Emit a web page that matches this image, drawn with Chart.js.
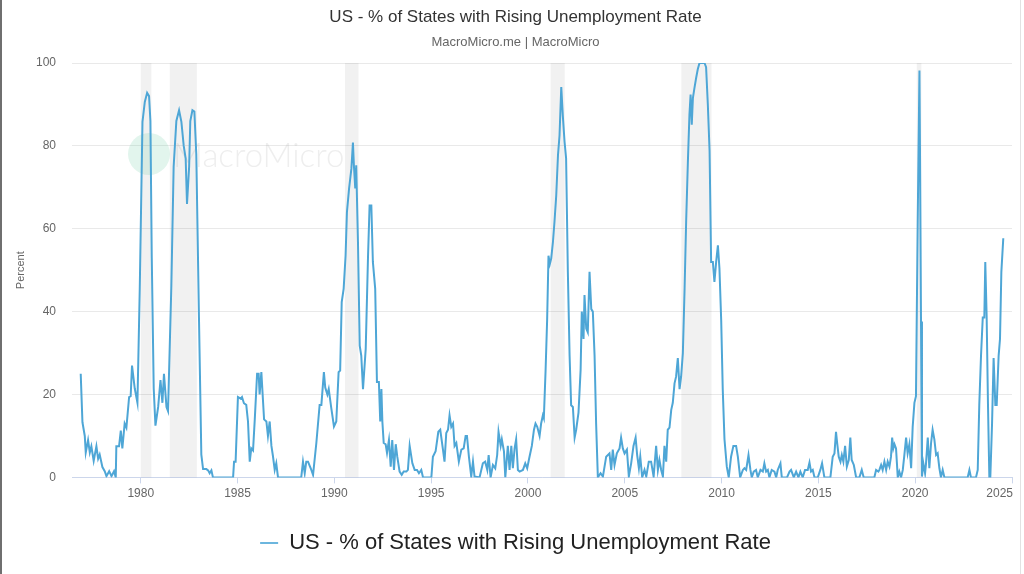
<!DOCTYPE html>
<html><head><meta charset="utf-8">
<script src="https://cdn.jsdelivr.net/npm/chart.js@4/dist/chart.umd.min.js"></script>
<style>
html,body{margin:0;padding:0;background:#fff;}
#wrap{position:relative;width:1024px;height:574px;}
#wrap:before{content:"";position:absolute;left:0;top:0;bottom:0;width:2px;background:#6f6f6f;}
#wrap:after{content:"";position:absolute;right:3px;top:0;bottom:0;width:1px;background:#e2e2e2;}
canvas{display:block;}
</style></head>
<body><div id="wrap"><canvas id="c" width="1024" height="574"></canvas></div>
<script>
const chartTitle = "US - % of States with Rising Unemployment Rate";
const chartSubtitle = "MacroMicro.me | MacroMicro";
const seriesName = "US - % of States with Rising Unemployment Rate";
const yTitle = "Percent";
const xTicks = [1980, 1985, 1990, 1995, 2000, 2005, 2010, 2015, 2020, 2025];
const yTicks = [0, 20, 40, 60, 80, 100];
const recessionStart = [1980.0, 1981.5, 1990.55, 2001.17, 2007.92, 2020.08];
const recessionEnd   = [1980.55, 1982.9, 1991.25, 2001.9, 2009.48, 2020.32];

const dates = [
1976.90,1976.99,1977.11,1977.16,1977.28,1977.37,1977.45,1977.57,1977.71,1977.80,1977.88,1978.02,1978.14,1978.23,1978.37,1978.49,1978.62,1978.71,1978.74,1978.88,1978.97,1979.05,1979.17,1979.26,1979.40,1979.48,1979.55,1979.69,1979.83,1979.95,
1980.09,1980.21,1980.33,1980.43,1980.50,1980.57,1980.67,1980.76,1980.90,1981.02,1981.12,1981.20,1981.33,1981.41,1981.58,1981.70,1981.84,1981.98,1982.10,1982.22,1982.32,1982.39,1982.50,1982.56,1982.67,1982.77,1982.87,1983.01,1983.13,1983.22,1983.39,
1983.48,1983.56,1983.65,1983.73,1984.77,1984.82,1984.90,1985.02,1985.16,1985.23,1985.33,1985.45,1985.54,1985.63,1985.71,1985.80,1985.89,1986.01,1986.09,1986.14,1986.23,1986.37,1986.49,1986.57,1986.66,1986.75,1986.83,1986.92,1987.00,1987.09,
1988.29,1988.38,1988.47,1988.55,1988.64,1988.78,1988.90,1989.07,1989.24,1989.33,1989.46,1989.53,1989.64,1989.71,1989.84,1989.98,1990.10,1990.22,1990.30,1990.38,
1990.48,1990.58,1990.65,1990.76,1990.88,1990.96,1991.01,1991.08,1991.13,1991.22,1991.31,1991.39,1991.48,1991.62,1991.74,1991.82,1991.91,1991.99,1992.11,1992.20,1992.30,1992.37,1992.43,1992.48,1992.55,1992.65,1992.72,1992.82,1992.91,1992.99,
1993.08,1993.17,1993.25,1993.37,1993.48,1993.58,1993.72,1993.80,1993.89,1994.03,1994.15,1994.27,1994.37,1994.49,1994.58,1995.01,1995.09,1995.23,1995.37,1995.47,1995.61,1995.69,1995.78,1995.87,1995.95,1996.04,1996.13,1996.21,1996.30,1996.43,
1996.56,1996.68,1996.78,1996.85,1996.95,1997.07,1997.16,1997.24,1997.50,1997.67,1997.79,1997.90,1997.97,1998.07,1998.19,1998.31,1998.41,1998.48,1998.59,1998.65,1998.76,1998.83,1998.96,1999.05,1999.14,1999.22,1999.31,1999.39,1999.48,1999.57,
1999.74,1999.86,1999.96,2000.08,2000.20,2000.31,2000.39,2000.48,2000.60,2000.68,2000.77,2000.82,2000.91,2000.99,2001.06,2001.13,2001.20,2001.29,2001.37,2001.46,2001.55,2001.63,2001.72,2001.80,2001.89,2001.97,2002.06,2002.15,2002.23,2002.32,
2002.41,2002.49,2002.61,2002.72,2002.78,2002.87,2002.92,2003.01,2003.09,2003.18,2003.27,2003.35,2003.44,2003.52,2003.61,2003.75,2003.87,2004.04,2004.21,2004.30,2004.38,2004.47,2004.59,2004.73,2004.81,2004.90,2004.99,2005.11,2005.21,2005.33,
2005.45,2005.56,2005.64,2005.73,2005.80,2005.90,2006.02,2006.11,2006.24,2006.36,2006.49,2006.62,2006.71,2006.79,2006.88,2006.97,2007.05,2007.14,2007.22,2007.31,2007.40,2007.48,2007.57,2007.65,2007.74,2007.83,2007.91,2008.00,2008.09,2008.17,
2008.26,2008.34,2008.40,2008.46,2008.52,2008.60,2008.69,2008.77,2008.86,2009.03,2009.12,2009.20,2009.29,2009.38,2009.46,2009.55,2009.63,2009.72,2009.81,2009.89,2009.98,2010.06,2010.15,2010.27,2010.37,2010.49,2010.61,2010.75,2010.84,2010.96,
2011.10,2011.18,2011.27,2011.39,2011.49,2011.56,2011.66,2011.78,2011.87,2012.01,2012.13,2012.21,2012.30,2012.39,2012.47,2012.59,2012.73,2012.82,2012.90,2013.04,2013.11,2013.38,2013.51,2013.59,2013.73,2013.85,2013.97,2014.07,2014.19,2014.31,
2014.45,2014.54,2014.62,2014.71,2014.80,2014.97,2015.10,2015.19,2015.31,2015.62,2015.74,2015.83,2015.91,2015.97,2016.05,2016.14,2016.21,2016.29,2016.38,2016.47,2016.57,2016.65,2016.72,2016.83,2016.95,2017.12,2017.24,2017.34,2017.89,2017.98,
2018.10,2018.15,2018.24,2018.32,2018.41,2018.50,2018.58,2018.67,2018.75,2018.81,2018.87,2018.93,2019.01,2019.10,2019.18,2019.27,2019.36,2019.44,2019.53,2019.61,2019.70,2019.79,2019.87,2019.96,2020.04,2020.13,2020.22,2020.25,2020.30,2020.35,
2020.42,2020.51,2020.56,2020.65,2020.73,2020.82,2020.90,2020.99,2021.08,2021.16,2021.25,2021.33,2021.42,2021.51,2022.71,2022.80,2022.88,2023.14,2023.23,2023.31,2023.40,2023.49,2023.57,2023.62,2023.69,2023.76,2023.83,2023.88,2023.97,2024.05,
2024.14,2024.21,2024.31,2024.38,2024.45,2024.55
];
const values = [
25.0,13.3,10,6,9,6,7.5,4,7.5,4.5,5.5,2.5,1.5,0.3,1.5,0.3,1.5,0,7.5,7.5,11.3,7,13,12,19.4,19.6,27,21.5,18,45.6,
85.8,90.6,92.8,92,86,53,21.5,12.5,17,23.5,18,25,17,16,46,75,86,88.6,85.8,80,77,66,75,86,88.6,88.3,78,38,5.5,2,2,
1.7,1,1.7,0,0,3.8,3.8,19.4,19,19.4,17.9,17.5,13.5,3.8,7,6.5,14,25,25,20,25.4,14,13.5,10,13.5,7.6,5.1,1.8,3.4,0,
0,3.8,1,3.8,3.8,2.2,0.6,8.3,17.5,17.5,25.4,21.7,20,21.3,16.8,12.3,13.5,25.4,25.8,42.3,
45.5,53.5,64,69.7,74.5,80.8,75.3,69.7,75.3,56.8,31.8,29.4,21.3,31,53.5,65.6,65.6,52,45.5,23,23,13.5,21.3,13.5,8.3,8,5.9,9,2.6,9,
1.8,8,5,1.4,0.6,1.4,1.4,1.8,7.6,3.4,1.8,1.8,1,1.8,0,0,5,6.3,11,11.5,6.7,3.8,10.7,11.5,15,12.2,13,7.6,8.3,3.8,
6.7,7,10,10,5,0.2,3.8,0.2,0,3.4,3.8,1.8,5.4,0,3,2.2,5.4,11,7.6,9.2,6.3,0,7.6,1.8,7.6,2.2,7,9.2,1.8,1.4,
1.8,3.4,2.2,5,7.6,11.5,13,12.2,10,13,15,14.3,25.8,38,53.5,51.5,52.8,56.8,61.7,68,77.7,82.5,94.2,87.3,81,77,49.6,29.4,17.4,17,
9.6,11.5,15.6,26,40,33.4,44,35.9,35,49.6,40.6,40,29.4,13,0,1,0.2,5,5.8,1.8,6.7,3,5.8,7,9.6,7,5.8,6.7,0.2,3.4,
7.6,9.6,5.4,2.2,5,0,1.8,0.2,3.8,3.8,0.2,7.6,1.8,4.2,1.8,0.2,7.6,3.8,11.5,12,16.3,18,22.7,24.3,28.8,21.3,24.3,30,45.6,61.7,
76.2,87.5,92.4,85.1,91.6,94,96.5,98.5,100,100,100,99,90,78.8,52,52,47.2,52,56,50.4,38,21.3,9.2,2.6,0,5,7.6,7.6,5,0,
1.8,2.2,1.8,5.4,1.8,0,1.4,1.8,0,1.8,1.4,3.4,1.4,1.8,0,1.8,1.4,0,1.8,3.4,0,0,1.4,1.8,0,1.4,0,1.4,0,1.8,
1.8,3.6,1.4,1.8,0,0,1.8,3.4,0,0,5,5.8,11,8.3,5,3.8,5.4,3.8,7.6,2.6,4.2,9.6,4.2,3,0,0,1.8,0,0,1.8,
1.4,1.8,3,1.8,3.8,1.8,3.8,2.6,5,9.6,7,8,7,0,1.4,0,1.8,5.4,9.6,5.8,8,2.2,12.2,18,19.6,61.7,98.2,77.7,37.6,0.2,
3.4,1,3.4,9.6,2.2,8.3,11.5,9.2,5.4,5.8,2.2,0,1.8,0,0,1.8,0,0,1.8,17.5,29.4,38.6,38.6,52,39,17.5,0,0,13,28.8,
17.5,17.5,29.4,33.4,49.6,57.7
];

const points = dates.map((d, i) => ({ x: d, y: values[i] }));
const lineColor = '#4ea6d6';
const FONT = '"Liberation Sans", Arial, sans-serif';
const lastTick = xTicks[xTicks.length - 1];

const bgPlugin = {
  id: 'bg',
  beforeDatasetsDraw(chart) {
    const { ctx, chartArea: a, scales: { x } } = chart;
    ctx.save();
    ctx.fillStyle = 'rgba(0,0,0,0.055)';
    for (let i = 0; i < recessionStart.length; i++) {
      const x0 = x.getPixelForValue(recessionStart[i]);
      const x1 = x.getPixelForValue(recessionEnd[i]);
      ctx.fillRect(x0, a.top, x1 - x0, a.bottom - a.top);
    }
    // faint watermark
    ctx.fillStyle = 'rgba(110,205,165,0.2)';
    ctx.beginPath();
    ctx.arc(a.left + 77, a.top + 91, 21, 0, Math.PI * 2);
    ctx.fill();
    ctx.fillStyle = 'rgba(170,170,170,0.2)';
    ctx.font = '300 33px Lato, "Open Sans", sans-serif';
    ctx.textBaseline = 'middle';
    ctx.fillText('MacroMicro', a.left + 101, a.top + 93);
    ctx.restore();
  },
  afterDraw(chart) {
    // last x label kept inside the plot edge (right-aligned to its tick)
    const { ctx, scales: { x } } = chart;
    ctx.save();
    ctx.fillStyle = '#666';
    ctx.font = '12px ' + FONT;
    ctx.textAlign = 'right';
    ctx.textBaseline = 'middle';
    ctx.fillText(String(lastTick), x.getPixelForValue(lastTick) + 1, x.top + 6 + 3 + 7.2);
    ctx.restore();
  }
};

new Chart(document.getElementById('c'), {
  type: 'line',
  data: {
    datasets: [{
      label: seriesName,
      data: points,
      borderColor: lineColor,
      backgroundColor: lineColor,
      borderWidth: 2,
      pointRadius: 0,
      tension: 0,
      fill: false
    }]
  },
  options: {
    responsive: false,
    animation: false,
    events: [],
    layout: { padding: { left: 8, right: 1, top: 7, bottom: 10 } },
    plugins: {
      title: {
        display: true, text: chartTitle, color: '#333',
        font: { family: FONT, size: 17, weight: 'normal' },
        padding: { top: 0, bottom: 7 }
      },
      subtitle: {
        display: true, text: chartSubtitle, color: '#666',
        font: { family: FONT, size: 13 },
        padding: { top: 0, bottom: 13 }
      },
      legend: {
        position: 'bottom',
        labels: {
          boxWidth: 18, boxHeight: 2, color: '#222', padding: 10,
          font: { family: FONT, size: 22 },
          generateLabels(chart) {
            const items = Chart.defaults.plugins.legend.labels.generateLabels(chart);
            items.forEach(it => { it.lineWidth = 0; it.fillStyle = '#6cb6de'; });
            return items;
          }
        }
      },
      tooltip: { enabled: false }
    },
    scales: {
      x: {
        type: 'linear', min: 1976.45, max: 2025,
        afterBuildTicks(axis) { axis.ticks = xTicks.map(v => ({ value: v })); },
        afterFit(axis) { axis.height = 44.6; axis.paddingRight = 12; },
        ticks: {
          color: '#666', padding: 3,
          font: { family: FONT, size: 12 },
          callback: v => (v === lastTick ? '' : String(v)), maxRotation: 0, autoSkip: false
        },
        grid: { drawOnChartArea: false, drawTicks: true, tickLength: 6, color: '#ccd6eb' },
        border: { display: true, color: '#ccd6eb' }
      },
      y: {
        min: 0, max: 100,
        afterBuildTicks(axis) { axis.ticks = yTicks.map(v => ({ value: v })); },
        afterFit(axis) { axis.width = 64; },
        title: {
          display: true, text: yTitle, color: '#666',
          font: { family: FONT, size: 11 },
          padding: { top: 6, bottom: 0 }
        },
        ticks: {
          color: '#666', padding: 16,
          font: { family: FONT, size: 12 }
        },
        grid: { color: '#e9e9e9', drawTicks: false },
        border: { display: false }
      }
    }
  },
  plugins: [bgPlugin]
});
</script>
</body></html>
